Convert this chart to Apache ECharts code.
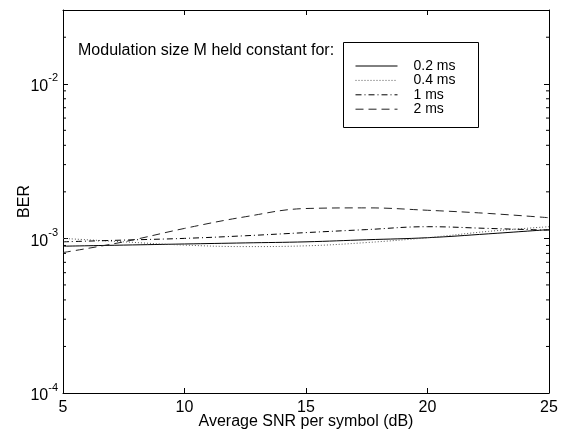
<!DOCTYPE html>
<html>
<head>
<meta charset="utf-8">
<script src="https://cdn.jsdelivr.net/npm/echarts@6/dist/echarts.min.js"></script>
<style>
html, body { margin: 0; padding: 0; background: #fff; }
#chart { width: 571px; height: 430px; }
</style>
</head>
<body>
<div id="chart"></div>
<script>
// SNR (dB) sample points
var snr = [5, 7.5, 10, 12.5, 15, 17.5, 20, 22.5, 25];
// BER for each hold time
var ber_02 = [8.9e-4, 9.05e-4, 9.2e-4, 9.35e-4, 9.5e-4, 9.8e-4, 1.01e-3, 1.07e-3, 1.14e-3];
var ber_04 = [1.0e-3, 9.5e-4, 9.05e-4, 8.85e-4, 8.95e-4, 9.4e-4, 1.01e-3, 1.11e-3, 1.19e-3];
var ber_1 = [9.5e-4, 9.75e-4, 1.0e-3, 1.04e-3, 1.09e-3, 1.14e-3, 1.19e-3, 1.16e-3, 1.13e-3];
var ber_2 = [8.1e-4, 9.5e-4, 1.16e-3, 1.38e-3, 1.56e-3, 1.575e-3, 1.52e-3, 1.45e-3, 1.36e-3];
var names = ['0.2 ms', '0.4 ms', '1 ms', '2 ms'];
// minor log ticks
var yMinor = [2e-4, 3e-4, 4e-4, 5e-4, 6e-4, 7e-4, 8e-4, 9e-4,
    2e-3, 3e-3, 4e-3, 5e-3, 6e-3, 7e-3, 8e-3, 9e-3, 2e-2];

var font = 'Liberation Sans, Arial, Helvetica, sans-serif';

function pairs(ys) {
    var out = [];
    for (var i = 0; i < snr.length; i++) out.push([snr[i], ys[i]]);
    return out;
}

window.onload = function () {
    var chart = echarts.init(document.getElementById('chart'));

    var axisLine = { show: true, lineStyle: { color: '#000', width: 1 } };
    var option = {
        animation: false,
        backgroundColor: '#fff',
        textStyle: { fontFamily: font },
        grid: { left: 63, right: 22, top: 10, bottom: 37, containLabel: false, outerBoundsMode: 'none' },
        xAxis: [{
            type: 'value', min: 5, max: 25, interval: 5,
            name: 'Average SNR per symbol (dB)', nameLocation: 'middle', nameGap: 21, nameMoveOverlap: false,
            nameTextStyle: { fontSize: 16, color: '#000', fontFamily: font },
            axisLine: axisLine,
            axisTick: { inside: true, length: 5, lineStyle: { color: '#000' } },
            axisLabel: { fontSize: 16, color: '#000', margin: 7, fontFamily: font },
            splitLine: { show: false }
        }, {
            type: 'value', min: 5, max: 25, interval: 5, position: 'top',
            axisLine: axisLine,
            axisTick: { inside: true, length: 5, lineStyle: { color: '#000' } },
            axisLabel: { show: false },
            splitLine: { show: false }
        }],
        yAxis: [{
            type: 'log', logBase: 10, min: 1e-4, max: 3e-2,
            name: 'BER', nameLocation: 'middle', nameGap: 30, nameRotate: 90, nameMoveOverlap: false,
            nameTextStyle: { fontSize: 16, color: '#000', fontFamily: font },
            axisLine: axisLine,
            axisTick: { inside: true, length: 5, lineStyle: { color: '#000' } },
            axisLabel: {
                margin: 5, color: '#000', showMaxLabel: false,
                formatter: function (v) {
                    var e = Math.round(Math.log(v) / Math.LN10);
                    return '{b|10}{s|' + e + '}';
                },
                rich: {
                    b: { fontSize: 16, fontFamily: font, color: '#000', verticalAlign: 'bottom', lineHeight: 22 },
                    s: { fontSize: 11, fontFamily: font, color: '#000', verticalAlign: 'top', lineHeight: 22 }
                }
            },
            splitLine: { show: false }
        }, {
            type: 'log', logBase: 10, min: 1e-4, max: 3e-2, position: 'right',
            axisLine: axisLine,
            axisTick: { inside: true, length: 5, lineStyle: { color: '#000' } },
            axisLabel: { show: false },
            splitLine: { show: false }
        }],
        legend: {
            data: names,
            orient: 'vertical',
            left: 350, top: 54,
            itemWidth: 42, itemHeight: 15, itemGap: 0.4,
            itemStyle: { opacity: 0 },
            lineStyle: { width: 1 },
            textStyle: { fontSize: 14, color: '#000', fontFamily: font, padding: [0, 0, 0, 11] }
        },
        graphic: [{
            type: 'rect',
            shape: { x: 343.5, y: 42.5, width: 135, height: 85 },
            style: { fill: null, stroke: '#000', lineWidth: 1 },
            z: 100
        }, {
            type: 'text',
            left: 78, top: 43,
            style: { text: 'Modulation size M held constant for:', fontSize: 16, fill: '#000', font: '16px ' + font },
            z: 100
        }],
        series: [{
            name: names[0], type: 'line', data: pairs(ber_02), smooth: 0.4,
            symbol: 'none', lineStyle: { color: '#000', width: 1, type: 'solid' }, itemStyle: { color: '#000' }
        }, {
            name: names[1], type: 'line', data: pairs(ber_04), smooth: 0.4,
            symbol: 'none', lineStyle: { color: '#555', width: 1, type: [1, 2] }, itemStyle: { color: '#555' }
        }, {
            name: names[2], type: 'line', data: pairs(ber_1), smooth: 0.4,
            symbol: 'none', lineStyle: { color: '#000', width: 1, type: [6, 3, 1, 3] }, itemStyle: { color: '#000' }
        }, {
            name: names[3], type: 'line', data: pairs(ber_2), smooth: 0.4,
            symbol: 'none', lineStyle: { color: '#222', width: 1, type: [8, 5] }, itemStyle: { color: '#222' }
        }, {
            type: 'custom', silent: true,
            data: yMinor.map(function (v) { return [5, v]; }),
            encode: { x: 0, y: 1 },
            renderItem: function (params, api) {
                var p = api.coord([5, api.value(1)]);
                var q = api.coord([25, api.value(1)]);
                return {
                    type: 'group',
                    children: [{
                        type: 'line',
                        shape: { x1: p[0], y1: p[1], x2: p[0] + 3, y2: p[1] },
                        style: { stroke: '#000', lineWidth: 1 }
                    }, {
                        type: 'line',
                        shape: { x1: q[0] - 3, y1: q[1], x2: q[0], y2: q[1] },
                        style: { stroke: '#000', lineWidth: 1 }
                    }]
                };
            }
        }]
    };
    chart.setOption(option);
};
</script>
</body>
</html>
